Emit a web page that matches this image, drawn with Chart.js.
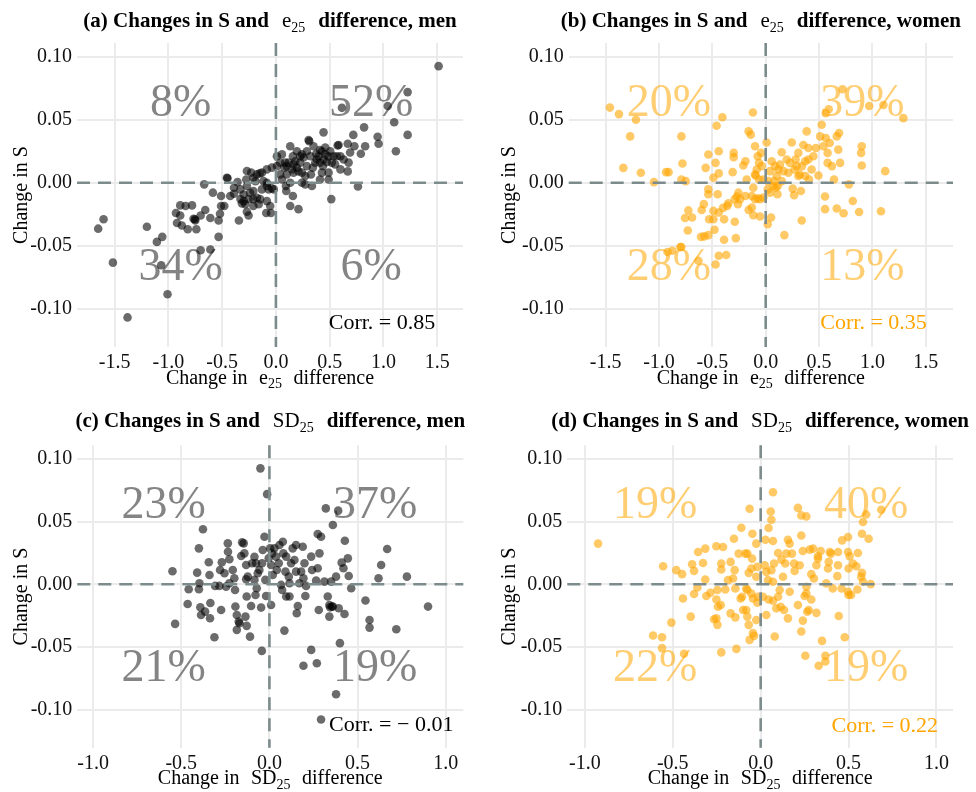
<!DOCTYPE html>
<html><head><meta charset="utf-8">
<script src="https://cdn.jsdelivr.net/npm/chart.js@4"></script>
<style>
html,body{margin:0;padding:0;background:#fff;}
#wrap{position:relative;width:976px;height:792px;overflow:hidden;}
#wrap canvas{position:absolute;}
</style></head>
<body><div id="wrap">
<canvas id="pa" width="488" height="396" style="left:0px;top:0px"></canvas>
<canvas id="pb" width="488" height="396" style="left:488px;top:0px"></canvas>
<canvas id="pc" width="488" height="396" style="left:0px;top:396px"></canvas>
<canvas id="pd" width="488" height="396" style="left:488px;top:396px"></canvas>
</div>
<script>
// ---------------- DATA ----------------
// [change in e25 / SD25 difference, change in S]
const menE25 = [
[1.513,0.0926],[1.225,0.072],[1.225,0.038],[1.04,0.061],[1.10,0.048],[1.116,0.025],[0.946,0.0365],[0.955,0.031],
[0.614,0.0595],[0.82,0.044],[0.72,0.038],[0.443,0.040],[0.83,0.029],[0.79,0.023],[0.73,0.029],[0.668,0.031],
[0.668,0.009],[0.763,-0.003],[0.515,-0.013],[0.21,-0.021],[0.133,-0.0185],[0.158,-0.0106],[0.096,-0.0066],
[-0.046,-0.024],[-0.09,-0.024],[-0.084,-0.0146],[-0.053,-0.0185],[-0.30,-0.0146],[-0.254,-0.026],[-0.344,-0.030],
[-0.39,-0.0087],[-0.456,0.004],[-0.45,0.0035],[-0.667,-0.0013],[-0.586,-0.0079],[-0.51,-0.0106],[-0.51,-0.0185],
[-0.48,-0.0185],[-0.52,-0.0246],[-0.533,-0.030],[-0.61,-0.028],[-0.657,-0.0217],[-0.70,-0.026],[-0.74,-0.037],
[-0.75,-0.030],[-0.753,-0.029],[-0.766,-0.0286],[-0.78,-0.018],[-0.84,-0.0185],[-0.89,-0.018],[-0.93,-0.024],
[-0.92,-0.032],[-0.875,-0.034],[-0.82,-0.037],[-0.89,-0.026],[-0.70,-0.0537],[-0.61,-0.053],[-0.533,-0.043],
[-1.057,-0.043],[-1.107,-0.047],[-1.20,-0.035],[-1.067,-0.0656],[-1.008,-0.0886],[-1.516,-0.0635],[-1.603,-0.029],
[-1.653,-0.0365],[-1.38,-0.107],[-0.425,-0.0106],[-0.33,-0.0053],[-0.27,-0.0026],[-0.30,-0.0093],[-0.24,-0.008],
[-0.21,-0.0066],[-0.21,-0.013],[-0.316,-0.0164],[-0.285,-0.017],[-0.27,-0.023],[-0.21,-0.0185],[-0.16,-0.017],
[-0.146,-0.013],[-0.13,-0.0053],[-0.084,-0.0026],[-0.037,-0.0045],[-0.02,-0.0053],[-0.27,0.0093],[-0.276,0.0026],
[-0.23,0.008],[-0.177,0.0066],[-0.15,0.0074],[-0.084,0.0106],[-0.084,0.0],[-0.19,0.0013],[-0.357,0.0005],
[-0.39,-0.004],[-0.037,0.012],[0.04,0.016],[0.056,0.0225],[0.133,0.029],[0.087,0.016],[0.10,0.0132],[0.164,0.0146],
[0.158,0.021],[0.18,0.017],[0.195,0.012],[0.226,0.016],[0.257,0.020],[0.242,0.008],[0.21,0.009],[0.288,0.0132],
[0.273,0.0053],[0.304,0.034],[0.31,0.033],[0.35,0.029],[0.375,0.023],[0.41,0.026],[0.397,0.021],[0.366,0.016],
[0.344,0.012],[0.326,0.0066],[0.335,-0.0026],[0.41,0.0026],[0.437,0.0132],[0.459,0.0225],[0.49,0.021],[0.474,0.0164],
[0.52,0.016],[0.55,0.0146],[0.574,0.0296],[0.583,0.030],[0.60,0.021],[0.60,0.0106],[0.63,0.0185],[0.676,0.016],
[0.69,0.024],[0.567,0.021],[0.505,0.025],[0.428,0.025],[0.459,0.028],[0.49,0.008],[0.49,0.0026],[0.273,-0.0013],
[0.242,0.0],[0.133,0.0],[0.093,-0.0026],[0.04,0.0066],[0.0093,0.0132],[0.056,0.0026],[0.10,0.0066],[0.149,0.0106],
[0.0093,0.021],[0.078,0.012],[0.288,0.025],[0.242,0.0225],[0.32,0.021],[0.428,0.008],[0.536,0.021],[0.38,0.0185],
[0.41,0.016],[0.443,0.0185],[0.226,0.021],[0.195,0.025],[0.164,0.008],[0.118,0.016],[-0.254,-0.013],[-0.33,-0.013],
[-0.177,-0.012],[-0.115,0.0013],[-0.068,-0.0053],[-0.13,0.008],[-0.21,0.004]
];
const womenE25 = [
[-1.46,0.0597],[-1.375,0.0545],[-1.216,0.050],[-1.27,0.0368],[-1.334,0.0118],[-1.17,0.0079],[-1.047,0.0005],
[-0.934,0.0084],[-0.91,0.0084],[-0.79,0.0368],[-0.78,0.0153],[-0.79,0.0026],[-0.75,0.0013],[-0.92,-0.055],
[-0.875,-0.054],[-0.80,-0.051],[-0.79,-0.051],[-0.756,-0.028],[-0.725,-0.022],[-0.69,-0.0276],[-0.73,-0.038],
[-0.63,-0.062],[-0.606,-0.043],[-0.575,-0.0426],[-0.5375,-0.0416],[-0.60,-0.0216],[-0.58,-0.017],[-0.5375,-0.0092],
[-0.5375,-0.0053],[-0.5375,0.0224],[-0.5625,0.0118],[-0.53,-0.029],[-0.49,-0.029],[-0.48,-0.0374],[-0.44,-0.058],
[-0.47,-0.065],[-0.37,-0.0574],[-0.39,-0.0453],[-0.39,-0.029],[-0.44,-0.0237],[-0.45,-0.0092],[-0.49,-0.0224],
[-0.40,-0.020],[-0.36,-0.0184],[-0.35,-0.0163],[-0.29,-0.031],[-0.28,-0.044],[-0.30,0.0203],[-0.30,0.0237],
[-0.31,0.0084],[-0.406,0.052],[-0.46,0.0453],[-0.44,0.025],[-0.47,0.0158],[-0.44,0.0074],[-0.49,0.004],
[-0.21,0.0137],[-0.19,0.0171],[-0.178,0.0026],[-0.256,-0.0079],[-0.27,-0.011],[-0.24,-0.013],[-0.26,-0.017],
[-0.29,-0.013],[-0.19,-0.0105],[-0.116,-0.004],[-0.13,-0.0105],[-0.10,-0.013],[-0.13,-0.0197],[-0.16,-0.0216],
[-0.116,-0.0258],[-0.053,-0.0268],[-0.12,0.0558],[-0.16,0.0408],[-0.14,0.0382],[-0.10,0.029],[-0.075,0.021],
[-0.044,0.0237],[-0.094,0.0058],[-0.0625,0.0158],[0.009,0.032],[0.04,0.0092],[0.025,0.0013],[-0.022,0.0026],
[-0.053,-0.013],[-0.075,-0.0124],[-0.022,-0.0118],[0.019,-0.0053],[0.04,-0.0079],[0.019,-0.033],[0.05,-0.0276],
[0.056,0.0171],[0.0875,0.0132],[0.094,-0.004],[0.11,-0.0092],[0.15,0.0242],[0.134,0.0145],[0.15,0.0013],
[0.175,-0.0416],[0.166,0.0092],[0.228,0.0158],[0.244,0.032],[0.253,-0.0047],[0.266,-0.010],[0.27,0.0105],
[0.29,0.0132],[0.306,0.0237],[0.32,0.0066],[0.33,-0.0066],[0.3375,-0.030],[0.353,0.030],[0.384,0.0408],
[0.37,0.0171],[0.40,0.0276],[0.406,0.0026],[0.43,0.0105],[0.447,0.021],[0.47,0.0276],[0.494,0.0058],[0.51,0.0368],
[0.525,0.046],[0.54,0.029],[0.5625,0.0553],[0.59,0.0584],[0.5625,0.0355],[0.58,0.0237],[0.58,0.0158],[0.556,-0.011],
[0.556,-0.021],[0.60,0.0316],[0.62,0.0132],[0.64,0.0026],[0.666,0.0368],[0.6875,0.0395],[0.68,0.0263],[0.697,0.0158],
[0.666,-0.0205],[0.73,-0.0242],[0.72,0.0742],[0.78,-0.0013],[0.816,-0.0145],[0.875,-0.0232],[0.90,0.029],
[0.894,0.0237],[0.90,0.0137],[0.97,0.061],[1.103,0.0618],[1.08,-0.0226],[1.12,0.0092],[1.29,0.0513],[0.2125,0.0079],
[0.197,0.0184],[0.28,0.0184],[0.34,0.0132],[0.37,0.0053],[0.40,0.0184],[0.306,0.0053],[0.119,0.0105],[0.103,0.0053],
[0.081,0.0013],[0.1125,-0.0026],[-0.0625,0.0026],[-0.10,0.0066],[-0.084,0.0105],[-0.0375,0.0132],[0.072,-0.0026]
];
const menSD25 = [
[-0.051,0.0926],[-0.013,0.072],[0.32,0.0606],[0.39,0.0588],[0.36,0.0473],[-0.377,0.0439],[-0.40,0.0287],
[0.668,0.0282],[0.274,0.0402],[0.293,0.038],[0.428,0.0348],[0.445,0.0207],[0.41,0.0173],[0.634,0.0154],
[0.619,0.0048],[0.78,0.0061],[0.90,-0.0178],[0.72,-0.0359],[0.568,-0.0346],[0.568,-0.0285],[0.545,-0.013],
[0.464,-0.0032],[0.45,0.0066],[0.42,0.0128],[0.426,-0.0237],[0.40,-0.047],[0.378,-0.0878],[0.293,-0.108],
[0.269,-0.063],[0.237,-0.0524],[0.193,-0.065],[0.085,-0.037],[-0.043,-0.0532],[-0.047,-0.0186],[0.0095,-0.0165],
[-0.55,0.0104],[-0.535,-0.0316],[-0.464,-0.0157],[-0.458,-0.004],[-0.40,-0.004],[-0.41,0.0093],[-0.397,0.0008],
[-0.392,-0.0184],[-0.388,-0.0245],[-0.365,-0.0218],[-0.344,0.0176],[-0.34,0.0074],[-0.335,-0.015],[-0.337,-0.0271],
[-0.312,-0.0423],[-0.308,-0.0013],[-0.28,0.0114],[-0.274,-0.0205],[-0.27,0.0176],[-0.255,0.0088],[-0.246,-0.0019],
[-0.236,0.0327],[-0.235,0.026],[-0.227,0.02],[-0.208,0.0114],[-0.199,0.0048],[-0.195,-0.0045],[-0.193,-0.0178],
[-0.185,-0.0245],[-0.185,-0.0364],[-0.174,-0.0298],[-0.17,-0.0311],[-0.155,0.0335],[-0.16,0.0226],[-0.146,0.0327],
[-0.142,0.0247],[-0.132,0.0154],[-0.123,0.0061],[-0.129,-0.0098],[-0.136,-0.0258],[-0.129,-0.0332],[-0.11,-0.0418],
[-0.104,-0.0173],[-0.098,0.0168],[-0.085,0.022],[-0.079,-0.0085],[-0.072,-0.0032],[-0.066,0.0088],[-0.042,0.0168],
[-0.038,0.0274],[-0.028,0.038],[-0.023,0.0035],[-0.019,-0.0093],[-0.004,0.0207],[0.004,0.0287],[0.0095,0.0154],
[0.015,0.0247],[0.019,0.0074],[0.028,0.0287],[0.038,0.0221],[0.042,0.0114],[0.053,0.0168],[0.057,0.0314],
[0.066,-0.0005],[0.072,-0.0045],[0.076,0.034],[0.079,0.0247],[0.091,0.0101],[0.095,-0.0098],[0.11,0.0061],
[0.114,-0.0098],[0.123,0.0168],[0.132,0.0287],[0.142,0.0194],[0.151,0.0314],[0.151,0.0101],[0.155,-0.0231],
[0.161,-0.0173],[0.17,0.0008],[0.18,0.0101],[0.189,0.03],[0.193,0.0048],[0.199,0.0168],[0.204,-0.0093],
[0.208,-0.0013],[0.237,0.0221],[0.242,0.0114],[0.265,0.0029],[0.274,0.0128],[0.28,-0.0205],[0.284,0.0247],
[0.312,0.0021],[0.331,-0.0098],[0.34,-0.0165],[0.344,-0.0184],[0.355,-0.0178],[0.34,-0.0258],[0.36,-0.0178],
[0.393,-0.0191],[0.35,0.0021],[0.378,0.0061],[0.114,0.0008],[-0.057,0.0114],[-0.076,0.0168],[-0.132,0.004],
[-0.284,-0.0013],[-0.227,0.0008],[-0.085,0.0035],[0.095,0.0221]
];
const womenSD25 = [
[-0.925,0.0325],[0.07,0.0735],[-0.063,0.0603],[0.057,0.0581],[0.061,0.0515],[0.212,0.061],[0.231,0.055],[0.26,0.0542],
[0.60,0.0558],[0.686,0.0595],[0.582,0.0497],[0.576,0.0404],[0.614,0.0364],[0.497,0.0377],[0.463,0.0351],[0.44,0.0258],
[0.497,0.0258],[0.553,0.025],[0.506,0.0224],[0.525,0.0166],[0.544,0.0144],[0.50,0.0126],[0.576,0.0091],[0.572,0.006],
[0.626,0.0001],[0.55,-0.0041],[0.50,-0.0086],[0.514,-0.0086],[0.44,0.0152],[0.436,0.0065],[0.40,0.0245],[0.387,0.0179],
[0.383,0.0126],[0.41,-0.0033],[0.373,0.0007],[0.444,-0.0253],[0.478,-0.0423],[0.349,-0.0452],[0.368,-0.0571],
[0.368,-0.0616],[0.33,-0.065],[0.254,-0.0571],[0.231,-0.0377],[0.24,-0.029],[0.273,-0.0205],[0.265,-0.0219],
[0.212,-0.0166],[0.25,-0.0094],[0.288,-0.0121],[0.317,-0.0228],[0.26,-0.002],[0.303,0.0046],[0.288,0.0081],
[0.317,0.0152],[0.326,0.0205],[0.326,0.0224],[0.298,0.0285],[0.279,0.0277],[0.24,0.0266],[0.231,0.039],[0.222,0.0152],
[0.193,0.0107],[0.178,0.0245],[0.155,0.0356],[0.165,0.0325],[0.14,0.0166],[0.118,0.0197],[0.099,0.025],[0.127,0.006],
[0.108,-0.0046],[0.099,-0.0099],[0.114,-0.0179],[0.089,-0.0192],[0.133,-0.0205],[0.155,-0.0272],[0.08,-0.0417],
[0.032,-0.0245],[0.07,-0.0131],[0.045,-0.0121],[0.013,-0.0099],[-0.015,-0.0099],[-0.019,-0.0147],[-0.044,-0.0113],
[-0.053,-0.0073],[-0.025,0.006],[-0.019,0.0139],[0.023,0.0152],[0.032,0.0099],[0.042,0.0033],[0.07,0.002],
[0.061,0.0113],[0.076,0.0166],[0.027,0.0356],[0.07,0.0346],[0.045,0.0449],[-0.025,0.0325],[-0.047,0.0404],
[-0.049,0.0205],[-0.076,0.0245],[-0.053,0.0126],[-0.068,0.0091],[-0.087,0.0245],[-0.11,0.0452],[-0.152,0.0364],
[-0.125,0.0245],[-0.148,0.0113],[-0.157,0.0046],[-0.144,-0.0033],[-0.186,0.0033],[-0.201,-0.0041],[-0.171,0.0179],
[-0.224,0.0166],[-0.214,0.0298],[-0.252,0.0304],[-0.224,0.0118],[-0.246,-0.0046],[-0.252,-0.0121],[-0.243,-0.0179],
[-0.227,-0.0166],[-0.252,-0.0272],[-0.246,-0.0324],[-0.265,-0.0279],[-0.224,-0.0544],[-0.138,-0.0516],[-0.171,-0.0232],
[-0.144,-0.0264],[-0.106,-0.0099],[-0.114,-0.0113],[-0.10,-0.0205],[-0.082,-0.0033],[-0.076,-0.0046],[-0.082,-0.0205],
[-0.076,-0.0258],[-0.068,-0.0324],[-0.063,-0.0444],[-0.044,-0.039],[-0.038,-0.0412],[-0.025,-0.0285],[-0.315,0.0285],
[-0.356,0.0258],[-0.328,0.017],[-0.315,0.0038],[-0.309,-0.0094],[-0.286,-0.0068],[-0.36,-0.0025],[-0.379,-0.0078],
[-0.379,0.0107],[-0.39,0.016],[-0.398,-0.0258],[-0.442,-0.0113],[-0.447,0.0081],[-0.48,0.0113],[-0.555,0.0144],
[-0.508,-0.0306],[-0.612,-0.0409],[-0.561,-0.0423],[-0.561,-0.051],[-0.436,-0.0555],[0.497,-0.006],[0.46,-0.0033],
[0.582,0.002],[0.341,0.0266],[0.393,0.0258],[0.26,-0.0073],[0.165,-0.006],[0.146,0.0245],[0.19,0.0166]
];

// quadrant shares: [top-left, top-right, bottom-left, bottom-right]
const pctMenE25   = ['8%', '52%', '34%', '6%'];
const pctWomenE25 = ['20%', '39%', '28%', '13%'];
const pctMenSD25  = ['23%', '37%', '21%', '19%'];
const pctWomenSD25= ['19%', '40%', '22%', '19%'];
const corrLabels  = ['Corr. = 0.85', 'Corr. = 0.35', 'Corr. = \u2212 0.01', 'Corr. = 0.22'];

// tick values and labels
const xTicksE25  = [-1.5, -1.0, -0.5, 0.0, 0.5, 1.0, 1.5];
const xLabelsE25 = ['-1.5', '-1.0', '-0.5', '0.0', '0.5', '1.0', '1.5'];
const xTicksSD25 = [-1.0, -0.5, 0.0, 0.5, 1.0];
const xLabelsSD25= ['-1.0', '-0.5', '0.0', '0.5', '1.0'];
const yTicks     = [-0.10, -0.05, 0.00, 0.05, 0.10];
const yLabels    = ['-0.10', '-0.05', '0.00', '0.05', '0.10'];

// ---------------- STYLE ----------------
const SERIF = '"Liberation Serif", "Times New Roman", Times, serif';
const GRID = '#ebebeb';
const REF = '#7c8b8b';
const MEN_PT = 'rgba(0,0,0,0.58)';
const WOMEN_PT = 'rgba(255,165,0,0.6)';
const MEN_TXT = 'rgba(110,110,110,0.85)';
const WOMEN_TXT = 'rgba(255,165,0,0.55)';

function T(t, o){ return Object.assign({t:t}, o||{}); }

const panels = [
  { id:'pa', pts:menE25, pt:MEN_PT, pctColor:MEN_TXT, corrColor:'#000', pct:pctMenE25, corr:corrLabels[0],
    xmin:-1.85, xmax:1.74, xt:xTicksE25, xl:xLabelsE25,
    area:{left:77, right:463, top:43, bottom:347},
    pctX:0.885, pctY:0.065, corrX:1.482, corrY:-0.1106, titleBase:27,
    title:[T('(a) Changes in S and',{b:1}),T('',{gap:13}),T('e'),T('25',{sub:1}),T('',{gap:13}),T('difference, men',{b:1})],
    xtitle:[T('Change in'),T('',{gap:11.5}),T('e'),T('25',{sub:1}),T('',{gap:11.5}),T('difference')] },
  { id:'pb', pts:womenE25, pt:WOMEN_PT, pctColor:WOMEN_TXT, corrColor:'#FFA500', pct:pctWomenE25, corr:corrLabels[1],
    xmin:-1.846, xmax:1.755, xt:xTicksE25, xl:xLabelsE25,
    area:{left:80.7, right:465, top:43, bottom:347},
    pctX:0.907, pctY:0.065, corrX:1.51, corrY:-0.110, titleBase:27,
    title:[T('(b) Changes in S and',{b:1}),T('',{gap:13}),T('e'),T('25',{sub:1}),T('',{gap:13}),T('difference, women',{b:1})],
    xtitle:[T('Change in'),T('',{gap:11.5}),T('e'),T('25',{sub:1}),T('',{gap:11.5}),T('difference')] },
  { id:'pc', pts:menSD25, pt:MEN_PT, pctColor:MEN_TXT, corrColor:'#000', pct:pctMenSD25, corr:corrLabels[2],
    xmin:-1.09, xmax:1.10, xt:xTicksSD25, xl:xLabelsSD25,
    area:{left:77.3, right:463.3, top:49.3, bottom:351.7},
    pctX:0.60, pctY:0.065, corrX:1.044, corrY:-0.111, titleBase:31,
    title:[T('(c) Changes in S and',{b:1}),T('',{gap:13}),T('SD'),T('25',{sub:1}),T('',{gap:13}),T('difference, men',{b:1})],
    xtitle:[T('Change in'),T('',{gap:11.5}),T('SD'),T('25',{sub:1}),T('',{gap:11.5}),T('difference')] },
  { id:'pd', pts:womenSD25, pt:WOMEN_PT, pctColor:WOMEN_TXT, corrColor:'#FFA500', pct:pctWomenSD25, corr:corrLabels[3],
    xmin:-1.10, xmax:1.094, xt:xTicksSD25, xl:xLabelsSD25,
    area:{left:79.3, right:465, top:49.3, bottom:351.7},
    pctX:0.60, pctY:0.065, corrX:1.009, corrY:-0.112, titleBase:31,
    title:[T('(d) Changes in S and',{b:1}),T('',{gap:13}),T('SD'),T('25',{sub:1}),T('',{gap:13}),T('difference, women',{b:1})],
    xtitle:[T('Change in'),T('',{gap:11.5}),T('SD'),T('25',{sub:1}),T('',{gap:11.5}),T('difference')] }
];
const YMIN = -0.1305, YMAX = 0.111;

function segFont(s, size){ return (s.b?'bold ':'') + (s.sub? Math.round(size*0.68) : size) + 'px ' + SERIF; }
function drawRich(ctx, segs, cx, base, size, color){
  let total = 0; const ws = [];
  segs.forEach(s=>{ let w; if (s.gap!==undefined) w = s.gap; else { ctx.font = segFont(s,size); w = ctx.measureText(s.t).width; } ws.push(w); total += w; });
  let x = cx - total/2;
  ctx.fillStyle = color; ctx.textAlign = 'left'; ctx.textBaseline = 'alphabetic';
  segs.forEach((s,i)=>{ if (s.gap===undefined){ ctx.font = segFont(s,size); ctx.fillText(s.t, x, base + (s.sub? size*0.22 : 0)); } x += ws[i]; });
}

const annot = {
  id:'annot',
  beforeDatasetsDraw(chart){
    const p = chart.options.plugins.annot.panel;
    const ctx = chart.ctx, xs = chart.scales.x, ys = chart.scales.y;
    ctx.save();
    // quadrant percentages
    ctx.font = '46px ' + SERIF; ctx.fillStyle = p.pctColor; ctx.textAlign = 'center'; ctx.textBaseline = 'alphabetic';
    const pos = [[-p.pctX, p.pctY],[p.pctX, p.pctY],[-p.pctX,-p.pctY],[p.pctX,-p.pctY]];
    pos.forEach((q,i)=>{ ctx.fillText(p.pct[i], xs.getPixelForValue(q[0]), ys.getPixelForValue(q[1]) + 46*0.338); });
    // correlation
    ctx.font = '22px ' + SERIF; ctx.fillStyle = p.corrColor; ctx.textAlign = 'right';
    ctx.fillText(p.corr, xs.getPixelForValue(p.corrX), ys.getPixelForValue(p.corrY) + 22*0.338);
    ctx.restore();
  },
  afterDatasetsDraw(chart){
    const p = chart.options.plugins.annot.panel;
    const ctx = chart.ctx, a = chart.chartArea, xs = chart.scales.x, ys = chart.scales.y;
    ctx.save();
    ctx.strokeStyle = REF; ctx.lineWidth = 2.6; ctx.setLineDash([13,8]);
    const x0 = xs.getPixelForValue(0), y0 = ys.getPixelForValue(0);
    ctx.beginPath(); ctx.moveTo(x0, a.top); ctx.lineTo(x0, a.bottom); ctx.stroke();
    ctx.beginPath(); ctx.moveTo(a.left, y0); ctx.lineTo(a.right, y0); ctx.stroke();
    ctx.setLineDash([]);
    // titles
    const cx = (a.left + a.right)/2;
    drawRich(ctx, p.title, cx, p.titleBase, 21, '#000');
    drawRich(ctx, p.xtitle, cx, a.bottom + 36.5, 20, '#000');
    ctx.translate(22, (a.top + a.bottom)/2); ctx.rotate(-Math.PI/2);
    ctx.font = '20px ' + SERIF; ctx.fillStyle = '#000'; ctx.textAlign = 'center'; ctx.textBaseline = 'middle';
    ctx.fillText('Change in S', 0, 0);
    ctx.restore();
  }
};

panels.forEach(p=>{
  const W = 488, H = 396;
  new Chart(document.getElementById(p.id), {
    type:'scatter',
    data:{ datasets:[{ data: p.pts.map(d=>({x:d[0], y:d[1]})), backgroundColor:p.pt, borderWidth:0,
      pointRadius:4.3, pointHoverRadius:4.3 }] },
    options:{
      responsive:false, animation:false, events:[],
      layout:{ padding:{ left:0, top:p.area.top, right:W - p.area.right, bottom:0 } },
      plugins:{ legend:{display:false}, tooltip:{enabled:false}, title:{display:false}, annot:{panel:p} },
      scales:{
        x:{ type:'linear', min:p.xmin, max:p.xmax,
          afterBuildTicks:s=>{ s.ticks = p.xt.map(v=>({value:v})); },
          afterFit:s=>{ s.height = H - p.area.bottom; },
          grid:{ color:GRID, lineWidth:2, drawTicks:false }, border:{display:false},
          ticks:{ autoSkip:false, maxRotation:0, padding:4, color:'#111', font:{family:SERIF, size:20},
            callback:(v,i)=>p.xl[i] } },
        y:{ type:'linear', min:YMIN, max:YMAX,
          afterBuildTicks:s=>{ s.ticks = yTicks.map(v=>({value:v})); },
          afterFit:s=>{ s.width = p.area.left; },
          grid:{ color:GRID, lineWidth:2, drawTicks:false }, border:{display:false},
          ticks:{ autoSkip:false, padding:5, color:'#111', font:{family:SERIF, size:20},
            callback:(v,i)=>yLabels[i] } }
      }
    },
    plugins:[annot]
  });
});
</script>
</body></html>
